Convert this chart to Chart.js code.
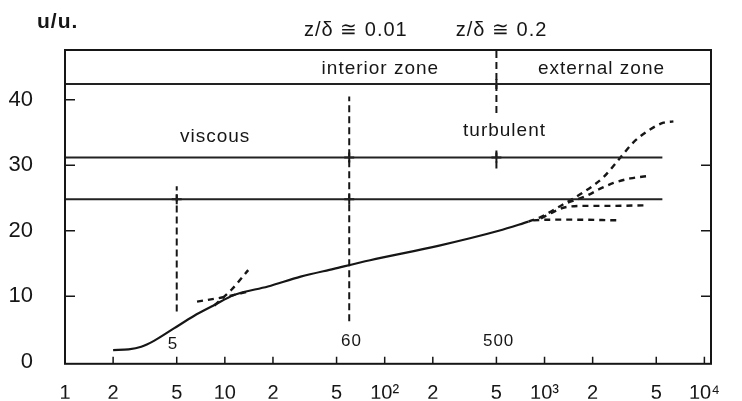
<!DOCTYPE html>
<html>
<head>
<meta charset="utf-8">
<script src="https://cdn.jsdelivr.net/npm/chart.js@4.4.0/dist/chart.umd.min.js"></script>
<style>
  html, body { margin: 0; padding: 0; background: #fff; }
  #wrap { width: 742px; height: 401px; }
</style>
</head>
<body>
<div id="wrap"><canvas id="wall-chart" width="742" height="401"></canvas></div>
<script>
// axis ticks
const xTicks = [1, 2, 5, 10, 20, 50, 100, 200, 500, 1000, 2000, 5000, 10000];
const xTickLabels = ["1", "2", "5", "10", "2", "5", "10²", "2", "5", "10³", "2", "5", "10⁴"];
const yTicks = [0, 10, 20, 30, 40];

// measured velocity profile (solid)
const wallX = [2, 2.5, 3, 3.6, 4.8, 6.4, 8.5, 11.4, 18.6, 29.8, 48, 81, 216, 517, 794];
const wallY = [1.8, 1.9, 2.3, 3.2, 5.1, 7.0, 8.6, 10.2, 11.5, 13.0, 14.2, 15.5, 17.7, 20.0, 21.4];

// viscous law u = z and log law extension near the wall (dashed)
const linearX = [8.6, 11, 14];
const linearY = [8.6, 11, 14];
const logExtX = [6.7, 10, 14.4];
const logExtY = [9.2, 9.9, 10.8];

// wake branches in the external zone (dashed)
const wakeAX = [794, 944, 1259, 1754, 2339, 2985, 3597, 4597, 5545, 6400];
const wakeAY = [21.4, 22.1, 23.8, 25.9, 28.2, 31.2, 33.5, 35.5, 36.5, 36.7];
const wakeBX = [1400, 1853, 2215, 2700, 3440, 4600];
const wakeBY = [24.3, 25.4, 26.4, 27.3, 28.0, 28.4];
const wakeCX = [950, 1140, 1350, 1800, 2500, 4400];
const wakeCY = [21.9, 22.9, 23.6, 23.8, 23.8, 23.9];
const wakeDX = [850, 1090, 1500, 2830];
const wakeDY = [21.6, 21.7, 21.7, 21.6];

// horizontal zone lines
const levelY = [42.4, 31.2, 24.8];
const levelEndX = [11000, 5460, 5460];

// vertical boundaries
const boundX = [5, 60, 500, 500];
const boundFromY = [7.7, 6.2, 38.0, 29.5];
const boundToY = [26.8, 40.5, 47.6, 32.6];

// crossing marks
const markX = [5, 60, 60, 500, 500];
const markY = [24.8, 31.2, 24.8, 42.4, 31.2];

// text in the plot
const noteText = ["z/δ ≅ 0.01", "z/δ ≅ 0.2", "interior zone", "external zone", "viscous", "turbulent", "5", "60", "500"];
const noteX = [66, 538, 94, 2271, 8.7, 562, 4.73, 62, 516];
const noteY = [50.6, 50.6, 44.7, 44.7, 34.4, 35.3, 2.7, 3.2, 3.2];
const noteSize = [20, 20, 19, 19, 19, 19, 17, 17, 17];

function pts(xs, ys) {
  return xs.map((x, i) => ({ x: x, y: ys[i] }));
}

const ink = "#161616";
const datasets = [];

levelY.forEach((y, i) => {
  datasets.push({ data: pts([1, levelEndX[i]], [y, y]), borderColor: "#222", borderWidth: 2 });
});
boundX.forEach((x, i) => {
  datasets.push({ data: pts([x, x], [boundFromY[i], boundToY[i]]), borderColor: ink, borderWidth: 2, borderDash: [7, 4] });
});
datasets.push({ data: pts(wallX, wallY), borderColor: ink, borderWidth: 2.2, cubicInterpolationMode: "monotone" });
[[linearX, linearY], [logExtX, logExtY], [wakeAX, wakeAY], [wakeBX, wakeBY], [wakeCX, wakeCY], [wakeDX, wakeDY]].forEach(p => {
  datasets.push({ data: pts(p[0], p[1]), borderColor: ink, borderWidth: 2.4, borderDash: [6, 5], cubicInterpolationMode: "monotone" });
});
datasets.push({
  data: pts(markX, markY), showLine: false, pointStyle: "cross",
  pointRadius: 5, pointBorderWidth: 2, borderColor: ink
});

const frameAndNotes = {
  id: "frameAndNotes",
  afterDraw(chart) {
    const ctx = chart.ctx;
    const a = chart.chartArea;
    const xs = chart.scales.x, ys = chart.scales.y;
    ctx.save();
    ctx.strokeStyle = ink;
    ctx.lineWidth = 2;
    ctx.strokeRect(a.left, a.top, a.right - a.left, a.bottom - a.top);
    ctx.lineWidth = 1.5;
    ctx.beginPath();
    xTicks.forEach(v => {
      const px = xs.getPixelForValue(v);
      if (px > a.left + 2 && px < a.right - 2) { ctx.moveTo(px, a.bottom); ctx.lineTo(px, a.bottom - 7); }
    });
    yTicks.forEach(v => {
      const py = ys.getPixelForValue(v);
      if (v > 0) { ctx.moveTo(a.left, py); ctx.lineTo(a.left + 10, py); }
      if (v > 0 && v < 40) { ctx.moveTo(a.right, py); ctx.lineTo(a.right - 10, py); }
    });
    ctx.stroke();

    ctx.fillStyle = ink;
    ctx.textAlign = "center";
    ctx.textBaseline = "middle";
    ctx.letterSpacing = "1px";
    noteText.forEach((t, i) => {
      ctx.font = noteSize[i] + "px 'Liberation Sans', Arial, sans-serif";
      ctx.fillText(t, xs.getPixelForValue(noteX[i]), ys.getPixelForValue(noteY[i]));
    });
    ctx.textAlign = "left";
    ctx.font = "bold 21px 'Liberation Sans', Arial, sans-serif";
    ctx.fillText("u/u.", 37, 22);
    ctx.restore();
  }
};

new Chart(document.getElementById("wall-chart").getContext("2d"), {
  type: "scatter",
  data: { datasets: datasets.map(d => Object.assign({ showLine: true, pointRadius: 0, fill: false }, d)) },
  options: {
    responsive: false,
    animation: false,
    layout: { padding: { left: 0, right: 31, top: 50, bottom: 0 } },
    plugins: { legend: { display: false }, tooltip: { enabled: false } },
    scales: {
      x: {
        type: "logarithmic",
        min: 1,
        max: 11000,
        afterBuildTicks: s => { s.ticks = xTicks.map(v => ({ value: v })); },
        afterFit: s => { s.height = 35; },
        grid: { display: false },
        border: { display: false },
        ticks: {
          autoSkip: false,
          maxRotation: 0,
          padding: 10,
          color: ink,
          font: { size: 20, family: "'Liberation Sans', Arial, sans-serif" },
          callback: (v) => { const i = xTicks.indexOf(v); return i >= 0 ? xTickLabels[i] : ""; }
        }
      },
      y: {
        min: -0.3,
        max: 47.6,
        afterBuildTicks: s => { s.ticks = yTicks.map(v => ({ value: v })); },
        afterFit: s => { s.width = 65; },
        grid: { display: false },
        border: { display: false },
        ticks: {
          padding: 24,
          color: ink,
          font: { size: 22, family: "'Liberation Sans', Arial, sans-serif" }
        }
      }
    }
  },
  plugins: [frameAndNotes]
});
</script>
</body>
</html>
